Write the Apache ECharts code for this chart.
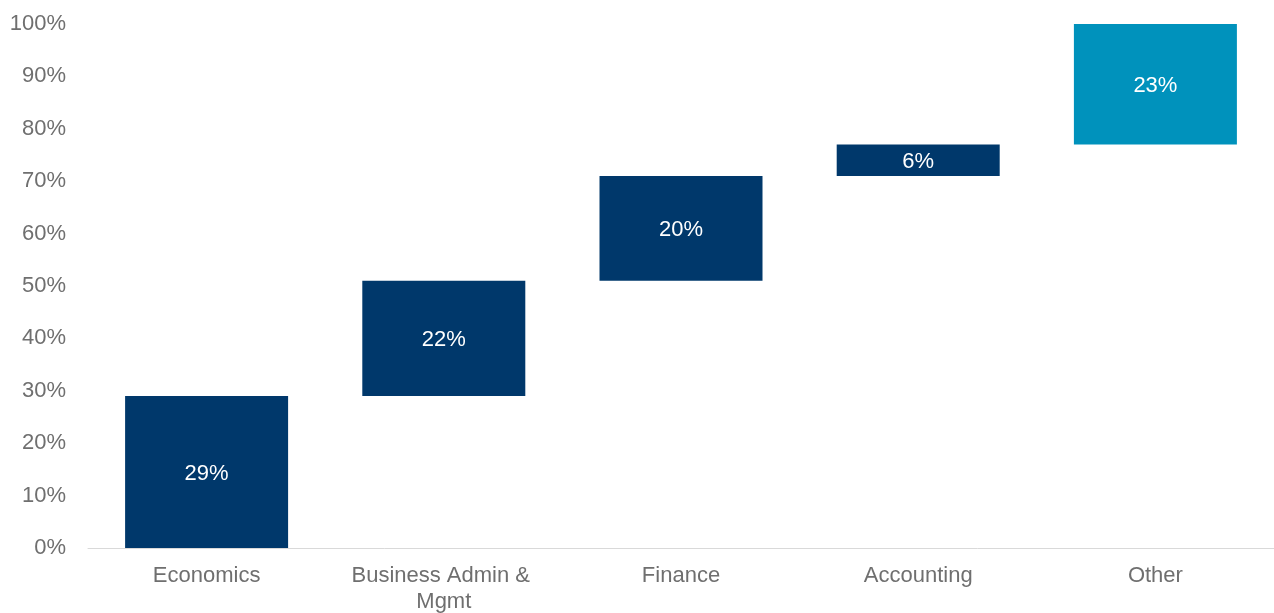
<!DOCTYPE html>
<html>
<head>
<meta charset="utf-8">
<script src="https://cdn.jsdelivr.net/npm/echarts@6/dist/echarts.min.js"></script>
<style>
html,body{margin:0;padding:0;background:#fff;}
#c{width:1274px;height:613px;}
</style>
</head>
<body>
<div id="c"></div>
<script>
const categories = ["Economics", "Business Admin & Mgmt", "Finance", "Accounting", "Other"];
const values = [29, 22, 20, 6, 23];
const yTicks = [0, 10, 20, 30, 40, 50, 60, 70, 80, 90, 100];

const bases = [];
let acc = 0;
values.forEach((v, i) => { bases.push(i === values.length - 1 ? 100 - v : acc); acc += v; });

const NAVY = '#00386B';
const TEAL = '#0092BC';
const FONT = '"Liberation Sans", Arial, Helvetica, sans-serif';

const chart = echarts.init(document.getElementById('c'));
chart.setOption({
  animation: false,
  grid: { left: 88, right: 0, top: 24, bottom: 65, outerBoundsMode: 'none', containLabel: false },
  xAxis: {
    type: 'category',
    data: categories,
    axisLine: { show: true, lineStyle: { color: '#D9D9D9', width: 1 } },
    axisTick: { show: false },
    axisLabel: {
      color: '#6F6F6F', fontSize: 22, fontFamily: FONT, margin: 15,
      width: 210, overflow: 'break', lineHeight: 26, interval: 0
    }
  },
  yAxis: {
    type: 'value',
    min: yTicks[0], max: yTicks[yTicks.length - 1], interval: 10,
    splitLine: { show: false },
    axisLine: { show: false },
    axisTick: { show: false },
    axisLabel: { color: '#6F6F6F', fontSize: 22, fontFamily: FONT, margin: 22, padding: [3, 0, 0, 0], formatter: '{value}%' }
  },
  series: [
    {
      type: 'bar', stack: 'w', data: bases, barWidth: 163,
      itemStyle: { color: 'transparent' }, silent: true
    },
    {
      type: 'bar', stack: 'w', barWidth: 163,
      data: values.map((v, i) => ({ value: v, itemStyle: { color: i === values.length - 1 ? TEAL : NAVY } })),
      label: { show: true, position: 'inside', offset: [0, 2], color: '#FFFFFF', fontSize: 22, fontFamily: FONT, formatter: '{c}%' }
    }
  ]
});
</script>
</body>
</html>
